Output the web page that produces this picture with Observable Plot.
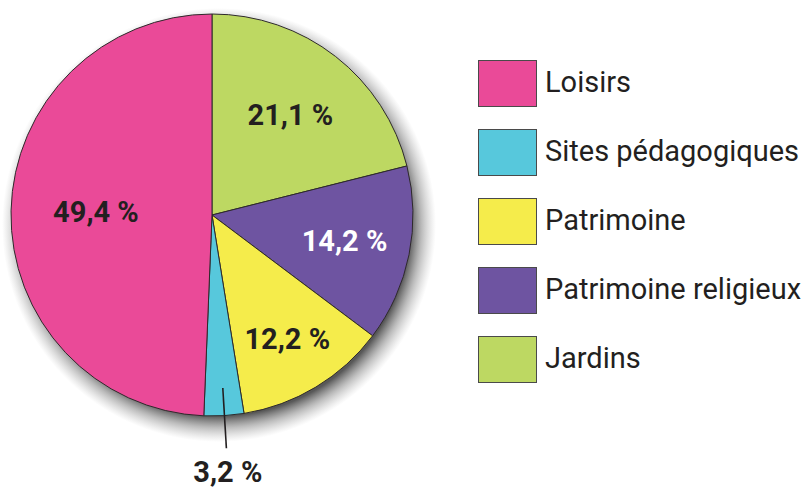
<!DOCTYPE html>
<html><head><meta charset="utf-8">
<script src="https://cdn.jsdelivr.net/npm/d3@7"></script>
<script src="https://cdn.jsdelivr.net/npm/@observablehq/plot@0.6"></script>
<style>
body{margin:0;background:#fff;}
#wrap{position:relative;width:811px;height:491px;overflow:hidden;}
#legend{position:absolute;left:478px;top:60px;font-family:Roboto, sans-serif;font-size:29px;color:#231f20;}
.row{display:flex;align-items:center;height:47px;margin-bottom:22px;white-space:nowrap;}
.row span{position:relative;top:-2px;}
.sw{width:57px;height:45px;border:1px solid #4a4a4a;margin-right:8px;flex:none;}
</style></head><body><div id="wrap"></div>
<script>
// ---- data ----
const categories = ["Jardins", "Patrimoine religieux", "Patrimoine", "Sites pédagogiques", "Loisirs"];
const values = [21.1, 14.2, 12.2, 3.2, 49.4];
const labels = ["21,1 %", "14,2 %", "12,2 %", "3,2 %", "49,4 %"];
const legendOrder = ["Loisirs", "Sites pédagogiques", "Patrimoine", "Patrimoine religieux", "Jardins"];
const colors = ["#bdd862", "#6e54a1", "#f5ec4b", "#57c8dc", "#ea4a98"];

// ---- layout ----
const cx = 212, cy = 215, R = 201;
const labelRadius = {"Jardins": 0.63, "Patrimoine religieux": 0.67, "Patrimoine": 0.72, "Sites pédagogiques": 1.28, "Loisirs": 0.58};
const leader = {"Sites pédagogiques": [0.86, 1.16]};
const labelFill = {"Patrimoine religieux": "#ffffff"};

const data = categories.map((c, i) => ({category: c, value: values[i], label: labels[i]}));
const arcs = d3.pie().sort(null).value(d => d.value)(data);
arcs.forEach(a => { a.mid = (a.startAngle + a.endAngle) / 2; a.category = a.data.category; a.label = a.data.label; });
const polar = (a, k) => [k * Math.sin(a), k * Math.cos(a)];

function slices(index, scales) {
  const x0 = scales.x(0), y0 = scales.y(0), r = scales.x(1) - scales.x(0);
  const g = d3.create("svg:g");
  const defs = g.append("defs");
  const pad = 16;
  const grad = defs.append("radialGradient").attr("id", "pieShadowGrad");
  const inner = (r - 10) / (r + pad);
  grad.append("stop").attr("offset", 0).attr("stop-color", "#3a3a3a").attr("stop-opacity", 0.85);
  grad.append("stop").attr("offset", inner).attr("stop-color", "#3a3a3a").attr("stop-opacity", 0.85);
  grad.append("stop").attr("offset", inner + (1 - inner) * 0.45).attr("stop-color", "#6a6a6a").attr("stop-opacity", 0.45);
  grad.append("stop").attr("offset", 1).attr("stop-color", "#999").attr("stop-opacity", 0);
  g.append("circle").attr("cx", x0 + 7).attr("cy", y0 + 10).attr("r", r + pad).attr("fill", "url(#pieShadowGrad)");
  const arc = d3.arc().innerRadius(0).outerRadius(r);
  const pg = g.append("g").attr("transform", `translate(${x0},${y0})`);
  pg.selectAll("path").data(arcs).join("path")
    .attr("d", arc).attr("fill", d => scales.color(d.category))
    .attr("stroke", "#2e2a2b").attr("stroke-width", 1).attr("stroke-linejoin", "round");
  return g.node();
}

const leaderArcs = arcs.filter(a => leader[a.category]);

const plot = Plot.plot({
  width: 811, height: 491, margin: 0,
  x: {domain: [-1, 1], range: [cx - R, cx + R], axis: null},
  y: {domain: [-1, 1], range: [cy + R, cy - R], axis: null},
  color: {domain: categories, range: colors},
  style: {background: "transparent", overflow: "visible"},
  marks: [
    Plot.dot(data, {x: () => 0, y: () => 0, fill: "category", r: 1, fillOpacity: 0}),
    slices,
    Plot.link(leaderArcs, {
      x1: d => polar(d.mid, leader[d.category][0])[0], y1: d => polar(d.mid, leader[d.category][0])[1],
      x2: d => polar(d.mid, leader[d.category][1])[0], y2: d => polar(d.mid, leader[d.category][1])[1],
      stroke: "#231f20", strokeWidth: 1.6
    }),
    Plot.text(arcs, {
      x: d => polar(d.mid, labelRadius[d.category])[0],
      y: d => polar(d.mid, labelRadius[d.category])[1],
      text: "label", fill: d => labelFill[d.category] || "#231f20",
      fontSize: 29, fontWeight: "bold", fontFamily: "Roboto, sans-serif"
    })
  ]
});

const wrap = document.getElementById("wrap");
wrap.appendChild(plot);
const cs = plot.scale("color");
const leg = document.createElement("div");
leg.id = "legend";
legendOrder.forEach(c => {
  const row = document.createElement("div"); row.className = "row";
  const sw = document.createElement("div"); sw.className = "sw";
  sw.style.background = cs.range[cs.domain.indexOf(c)];
  const t = document.createElement("span"); t.textContent = c;
  row.appendChild(sw); row.appendChild(t); leg.appendChild(row);
});
wrap.appendChild(leg);
</script>
</body></html>
